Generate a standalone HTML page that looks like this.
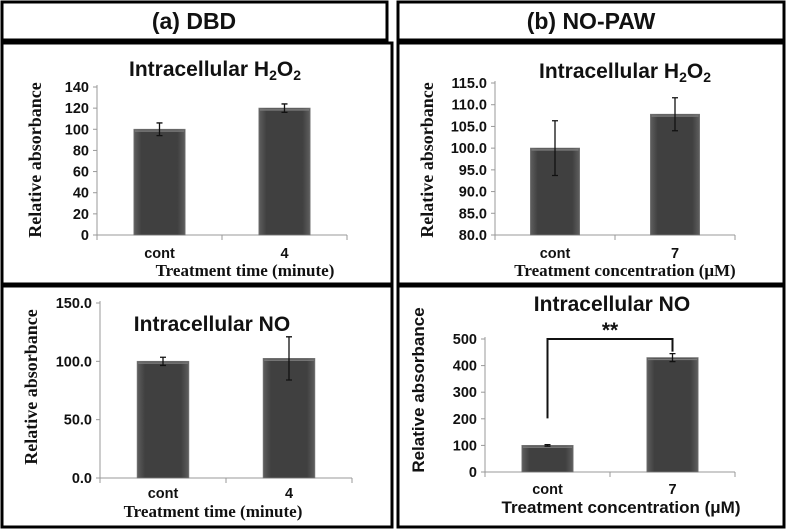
<!DOCTYPE html>
<html><head><meta charset="utf-8">
<style>
body{margin:0;background:#fff;width:787px;height:532px;overflow:hidden}
svg{display:block}
.tk{font-family:"Liberation Sans",sans-serif;font-weight:bold;font-size:14.5px;fill:#111}
.ttl{font-family:"Liberation Sans",sans-serif;font-weight:bold;font-size:21px;fill:#111}
.yt{font-family:"Liberation Serif",serif;font-weight:bold;font-size:18px;fill:#111}
.xt{font-family:"Liberation Serif",serif;font-weight:bold;font-size:17px;fill:#111}
.hd{font-family:"Liberation Sans",sans-serif;font-weight:bold;font-size:23px;fill:#111}
</style></head><body>
<svg id="s" width="787" height="532">
<defs><linearGradient id="g" x1="0" x2="1"><stop offset="0" stop-color="#5e5e5e"/><stop offset="0.15" stop-color="#404040"/><stop offset="0.85" stop-color="#404040"/><stop offset="1" stop-color="#5e5e5e"/></linearGradient></defs>
<rect x="2" y="2" width="385" height="38" fill="none" stroke="#000" stroke-width="3"/>
<text class="hd" x="194" y="29" text-anchor="middle">(a) DBD</text>
<rect x="398" y="2" width="386" height="38" fill="none" stroke="#000" stroke-width="3"/>
<text class="hd" x="591" y="29" text-anchor="middle">(b) NO-PAW</text>
<rect x="2" y="43" width="390" height="241" fill="none" stroke="#000" stroke-width="3"/>
<rect x="2" y="286" width="390" height="241" fill="none" stroke="#000" stroke-width="3"/>
<rect x="398" y="43" width="386" height="241" fill="none" stroke="#000" stroke-width="3"/>
<rect x="398" y="286" width="386" height="241" fill="none" stroke="#000" stroke-width="3"/>
</svg>
<script>
const categoriesA=["cont","4"];
const categoriesB=["cont","7"];
const aH2O2=[100,120], aH2O2Err=[6,4];
const aNO=[100,102.5], aNOErr=[3.5,18.5];
const bH2O2=[100,107.8], bH2O2Err=[6.3,3.8];
const bNO=[100,430], bNOErr=[3,15];
const ticksAH=[0,20,40,60,80,100,120,140];
const ticksAN=[0,50,100,150];
const ticksBH=[80,85,90,95,100,105,110,115];
const ticksBN=[0,100,200,300,400,500];
const NS="http://www.w3.org/2000/svg";
const svg=document.getElementById('s');
function mk(t,a,txt){const e=document.createElementNS(NS,t);for(const k in a)e.setAttribute(k,a[k]);if(txt!=null)e.textContent=txt;svg.appendChild(e);return e;}
function chart(c){
  const y=v=>c.y0-(v-c.min)/(c.max-c.min)*(c.y0-c.y1);
  const bw=(c.xe-c.x0)/2;
  const xc=i=>c.x0+bw*(i+0.5);
  let e=mk('line',{x1:c.x0,y1:c.y0,x2:c.x0,y2:c.y1-2,stroke:'#999'});
  
  
  e=mk('line',{x1:c.x0,y1:c.y0,x2:c.xe,y2:c.y0,stroke:'#999'});
  
  
  for(let i=0;i<=2;i++){mk('line',{x1:c.x0+bw*i,y1:c.y0,x2:c.x0+bw*i,y2:c.y0+5,stroke:'#999'});}
  c.ticks.forEach(t=>{
    mk('line',{x1:c.x0-4,y1:y(t),x2:c.x0,y2:y(t),stroke:'#999'});
    e=mk('text',{class:'tk',x:c.x0-8,y:y(t)+5,'text-anchor':'end'},t.toFixed(c.dec));
    
    
  });
  c.vals.forEach((v,i)=>{
    const w=bw*0.41;
    e=mk('rect',{x:xc(i)-w/2,y:y(v),width:w,height:c.y0-y(v),fill:'url(#g)',stroke:'#777','stroke-width':0.8});
    
    
    mk('rect',{x:xc(i)-w/2+1,y:y(v)+1,width:w-2,height:1.5,fill:'#7a7a7a'});
    const hi=y(v+c.err[i]),lo=y(v-c.err[i]);
    e=mk('path',{d:`M${xc(i)},${hi}V${lo}M${xc(i)-3},${hi}H${xc(i)+3}M${xc(i)-3},${lo}H${xc(i)+3}`,stroke:'#111','stroke-width':1.3,fill:'none'});
    
    
    e=mk('text',{class:'tk',x:xc(i),y:c.y0+c.lblDy,'text-anchor':'middle'},c.cats[i]);
    
    
  });
  e=mk('text',{class:'ttl',x:c.tx,y:c.ty,'text-anchor':'middle'});
  
  
  e.innerHTML=c.title;
  e=mk('text',{class:'yt',x:0,y:0,'text-anchor':'middle',transform:`translate(${c.yx},${c.yy}) rotate(-90)`},'Relative absorbance');
  if(c.ySans)e.setAttribute('style','font-family:"Liberation Sans",sans-serif;font-size:17px');
  
  
  e=mk('text',{class:'xt',x:c.xtx,y:c.xty,'text-anchor':'middle'},c.xtitle);
  if(c.xSans)e.setAttribute('style','font-family:"Liberation Sans",sans-serif;font-size:17px');
  
  
  return {y,xc};
}
const h2='Intracellular H<tspan dy="4" font-size="14">2</tspan><tspan dy="-4">O</tspan><tspan dy="4" font-size="14">2</tspan>';
chart({id:'a-h2o2',x0:97,xe:347,y0:235,y1:87,min:0,max:140,ticks:ticksAH,dec:0,vals:aH2O2,err:aH2O2Err,cats:categoriesA,title:h2,tx:215,ty:76,yx:41,yy:160,xtitle:'Treatment time (minute)',xtx:245,xty:276,lblDy:23});
chart({id:'a-no',x0:100,xe:352,y0:478,y1:303,min:0,max:150,ticks:ticksAN,dec:1,vals:aNO,err:aNOErr,cats:categoriesA,title:'Intracellular NO',tx:212,ty:331,yx:37,yy:387,xtitle:'Treatment time (minute)',xtx:213,xty:517,lblDy:20});
chart({id:'b-h2o2',x0:495,xe:735,y0:235,y1:83,min:80,max:115,ticks:ticksBH,dec:1,vals:bH2O2,err:bH2O2Err,cats:categoriesB,title:h2,tx:625,ty:78,yx:433,yy:160,xtitle:'Treatment concentration (\u03bcM)',xtx:625,xty:276,lblDy:23});
const r=chart({id:'b-no',x0:485,xe:735,y0:472,y1:339,min:0,max:500,ticks:ticksBN,dec:0,vals:bNO,err:bNOErr,cats:categoriesB,title:'Intracellular NO',tx:612,ty:311,yx:424,yy:390,xtitle:'Treatment concentration (\u03bcM)',xtx:621,xty:513,lblDy:22,ySans:true,xSans:true});
let e=mk('path',{d:`M${r.xc(0)},${r.y(bNO[0])-27}V${r.y(500)}H${r.xc(1)}V${r.y(bNO[1]+bNOErr[1])-2}`,stroke:'#111','stroke-width':2,fill:'none'});


e=mk('text',{class:'ttl',x:(r.xc(0)+r.xc(1))/2,y:r.y(500)-2,'text-anchor':'middle'},'**');


</script>
</body></html>
